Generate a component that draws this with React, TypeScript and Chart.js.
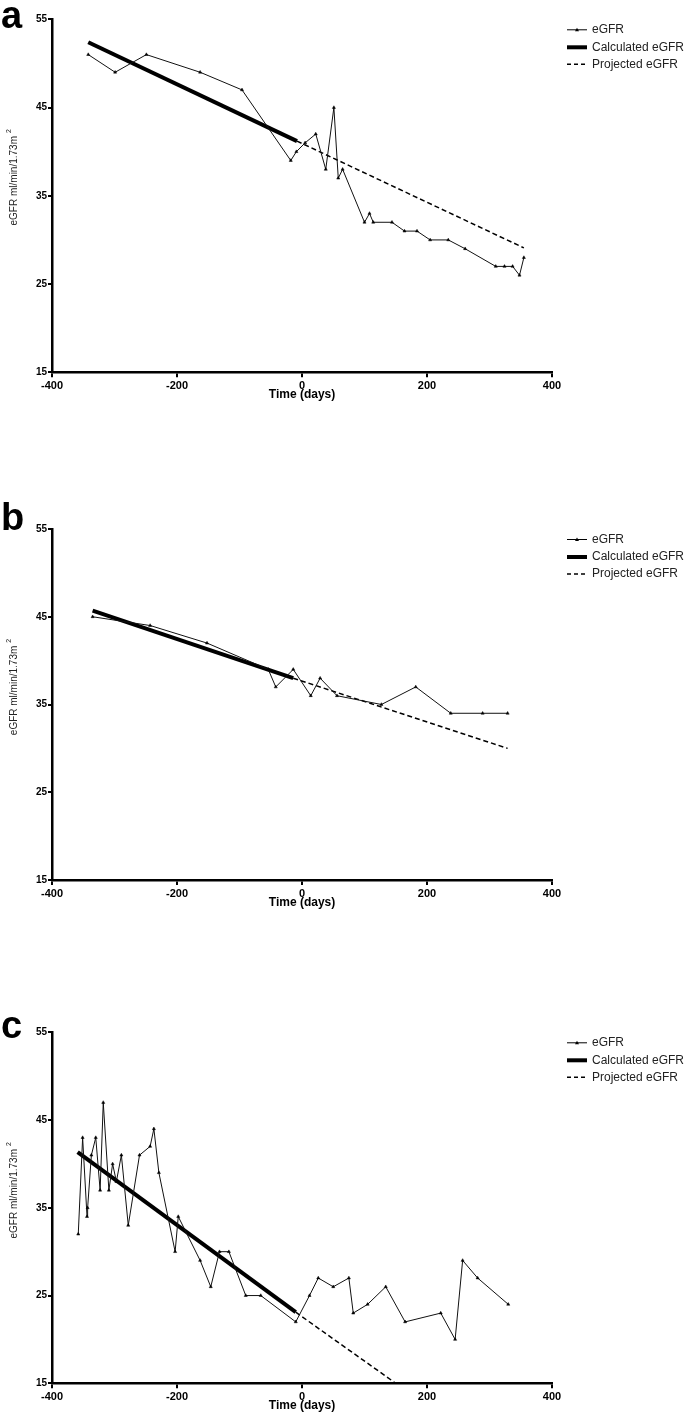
import React, { useEffect, useRef } from "react";
import { Chart, registerables } from "chart.js";

Chart.register(...registerables);

const FONT = "'Liberation Sans', Arial, Helvetica, sans-serif";

// ---------- Panel a ----------
const aDays = [-342, -299, -249, -163, -96, -18, -9, 5, 22, 38, 51, 58, 65, 100, 108, 114, 144, 164, 184, 205, 234, 261, 310, 324, 337, 348, 355];
const aEgfr = [51, 49, 51, 49, 47, 39, 40, 41, 42, 38, 45, 37, 38, 32, 33, 32, 32, 31, 31, 30, 30, 29, 27, 27, 27, 26, 28];
const aCalcDays = [-342, -8];
const aCalcEgfr = [52.4, 41.2];
const aProjDays = [-8, 355];
const aProjEgfr = [41.2, 29.1];

// ---------- Panel b ----------
const bDays = [-335, -243, -152, -54, -42, -14, 14, 29, 56, 127, 182, 238, 289, 329];
const bEgfr = [45, 44, 42, 39, 37, 39, 36, 38, 36, 35, 37, 34, 34, 34];
const bCalcDays = [-335, -14];
const bCalcEgfr = [45.7, 38.0];
const bProjDays = [-14, 329];
const bProjEgfr = [38.0, 30.0];

// ---------- Panel c ----------
const cDays = [-358, -351, -344, -343, -337, -330, -323, -318, -309, -303, -297, -289, -278, -260, -243, -237, -229, -203, -198, -163, -146, -132, -117, -90, -66, -10, 12, 26, 50, 75, 82, 105, 134, 165, 222, 245, 257, 281, 330];
const cEgfr = [32, 43, 34, 35, 41, 43, 37, 47, 37, 40, 38, 41, 33, 41, 42, 44, 39, 30, 34, 29, 26, 30, 30, 25, 25, 22, 25, 27, 26, 27, 23, 24, 26, 22, 23, 20, 29, 27, 24];
const cCalcDays = [-359, -10];
const cCalcEgfr = [41.35, 23.1];
const cProjDays = [-10, 150];
const cProjEgfr = [23.1, 15];

// ---------- Axes & labels ----------
const xTicks = [-400, -200, 0, 200, 400];
const yTicks = [15, 25, 35, 45, 55];
const legendLabels = ["eGFR", "Calculated eGFR", "Projected eGFR"];
const xTitle = "Time (days)";
const yTitle = "eGFR ml/min/1.73m";
const yTitleSup = "2";

const toPts = (xs: number[], ys: number[]) => xs.map((x, i) => ({ x, y: ys[i] }));

type PanelDef = {
  letter: string;
  top: number;
  height: number;
  axisTop: number;
  axisBottom: number;
  letterY: number;
  days: number[];
  egfr: number[];
  calcDays: number[];
  calcEgfr: number[];
  projDays: number[];
  projEgfr: number[];
};

const panels: PanelDef[] = [
  { letter: "a", top: 0, height: 500, axisTop: 19.3, axisBottom: 372.3, letterY: 28, days: aDays, egfr: aEgfr, calcDays: aCalcDays, calcEgfr: aCalcEgfr, projDays: aProjDays, projEgfr: aProjEgfr },
  { letter: "b", top: 500, height: 500, axisTop: 29, axisBottom: 380, letterY: 30, days: bDays, egfr: bEgfr, calcDays: bCalcDays, calcEgfr: bCalcEgfr, projDays: bProjDays, projEgfr: bProjEgfr },
  { letter: "c", top: 1000, height: 416, axisTop: 32.3, axisBottom: 383.3, letterY: 38, days: cDays, egfr: cEgfr, calcDays: cCalcDays, calcEgfr: cCalcEgfr, projDays: cProjDays, projEgfr: cProjEgfr },
];

const decorPlugin = {
  id: "decor",
  afterDraw(chart: any, _args: any, opts: any) {
    const { ctx, chartArea } = chart;
    ctx.save();
    ctx.fillStyle = "#000";
    // panel letter
    ctx.font = `bold 38px ${FONT}`;
    ctx.textAlign = "left";
    ctx.textBaseline = "alphabetic";
    ctx.fillText(opts.letter, 1, opts.letterY);

    // y-axis title (rotated)
    ctx.save();
    ctx.translate(14, chartArea.top + 158);
    ctx.rotate(-Math.PI / 2);
    ctx.font = `10px ${FONT}`;
    const mainW = ctx.measureText(yTitle).width;
    ctx.font = `7px ${FONT}`;
    const supW = ctx.measureText(yTitleSup).width;
    const total = mainW + 3 + supW;
    ctx.textBaseline = "middle";
    ctx.font = `10px ${FONT}`;
    ctx.fillStyle = "#222";
    ctx.fillText(yTitle, -total / 2, 0);
    ctx.font = `7px ${FONT}`;
    ctx.fillText(yTitleSup, -total / 2 + mainW + 3, -5);
    ctx.restore();

    // legend
    const rows = [10.5, 28, 45];
    const x0 = 567;
    const x1 = 587;
    ctx.font = `12px ${FONT}`;
    ctx.textBaseline = "middle";
    ctx.textAlign = "left";
    legendLabels.forEach((lab, i) => {
      const y = chartArea.top + rows[i];
      ctx.save();
      ctx.strokeStyle = "#000";
      ctx.fillStyle = "#000";
      ctx.beginPath();
      if (i === 0) {
        ctx.lineWidth = 1;
        ctx.moveTo(x0, y);
        ctx.lineTo(x1, y);
        ctx.stroke();
        ctx.beginPath();
        ctx.moveTo(577, y - 2);
        ctx.lineTo(579, y + 1.5);
        ctx.lineTo(575, y + 1.5);
        ctx.closePath();
        ctx.fill();
      } else if (i === 1) {
        ctx.lineWidth = 4;
        ctx.moveTo(x0, y);
        ctx.lineTo(x1, y);
        ctx.stroke();
      } else {
        ctx.lineWidth = 1.5;
        ctx.setLineDash([4, 3]);
        ctx.moveTo(x0, y);
        ctx.lineTo(x1, y);
        ctx.stroke();
      }
      ctx.restore();
      ctx.fillStyle = "#222";
      ctx.fillText(lab, 592, y);
    });
    ctx.restore();
  },
};

function Panel({ p }: { p: PanelDef }) {
  const ref = useRef<HTMLCanvasElement | null>(null);
  useEffect(() => {
    if (!ref.current) return;
    const chart = new Chart(ref.current, {
      type: "line",
      data: {
        datasets: [
          {
            label: legendLabels[0],
            data: toPts(p.days, p.egfr),
            borderColor: "#111",
            borderWidth: 1,
            pointStyle: "triangle",
            pointRadius: 1.8,
            pointBackgroundColor: "#000",
            pointBorderColor: "#000",
            pointBorderWidth: 0.5,
            tension: 0,
          },
          {
            label: legendLabels[1],
            data: toPts(p.calcDays, p.calcEgfr),
            borderColor: "#000",
            borderWidth: 4,
            pointRadius: 0,
            tension: 0,
          },
          {
            label: legendLabels[2],
            data: toPts(p.projDays, p.projEgfr),
            borderColor: "#000",
            borderWidth: 1.5,
            borderDash: [5, 3],
            pointRadius: 0,
            tension: 0,
          },
        ],
      },
      options: {
        responsive: false,
        animation: false,
        events: [],
        devicePixelRatio: 1,
        layout: {
          padding: { top: p.axisTop, right: 133, left: 0, bottom: p.height - p.axisBottom - 30 },
        },
        plugins: {
          legend: { display: false },
          tooltip: { enabled: false },
          decor: { letter: p.letter, letterY: p.letterY },
        } as any,
        scales: {
          x: {
            type: "linear",
            min: -400,
            max: 400,
            afterBuildTicks: (s: any) => {
              s.ticks = xTicks.map((v) => ({ value: v }));
            },
            afterFit: (s: any) => {
              s.height = 30;
            },
            ticks: {
              color: "#000",
              font: { family: FONT, size: 11, weight: "bold" },
              padding: 2,
              maxRotation: 0,
              autoSkip: false,
            },
            grid: { drawOnChartArea: false, drawTicks: true, tickLength: 5, color: "#000", lineWidth: 2 },
            border: { display: true, color: "#000", width: 2.5 },
            title: {
              display: true,
              text: xTitle,
              color: "#000",
              font: { family: FONT, size: 12, weight: "bold" },
              padding: { top: 0, bottom: 0 },
            },
          },
          y: {
            type: "linear",
            min: 15,
            max: 55,
            afterBuildTicks: (s: any) => {
              s.ticks = yTicks.map((v) => ({ value: v }));
            },
            afterFit: (s: any) => {
              s.width = 52;
            },
            ticks: {
              color: "#000",
              font: { family: FONT, size: 10, weight: "bold" },
              padding: 1,
              autoSkip: false,
            },
            grid: { drawOnChartArea: false, drawTicks: true, tickLength: 4, color: "#000", lineWidth: 2 },
            border: { display: true, color: "#000", width: 2.5 },
          },
        },
      } as any,
      plugins: [decorPlugin],
    });
    return () => chart.destroy();
  }, [p]);
  return (
    <canvas
      ref={ref}
      width={685}
      height={p.height}
      style={{ position: "absolute", left: 0, top: p.top, width: 685, height: p.height, display: "block" }}
    />
  );
}

export default function App() {
  return (
    <div style={{ position: "absolute", left: 0, top: 0, width: 685, height: 1416, background: "#fff", overflow: "hidden" }}>
      {panels.map((p) => (
        <Panel key={p.letter} p={p} />
      ))}
    </div>
  );
}
